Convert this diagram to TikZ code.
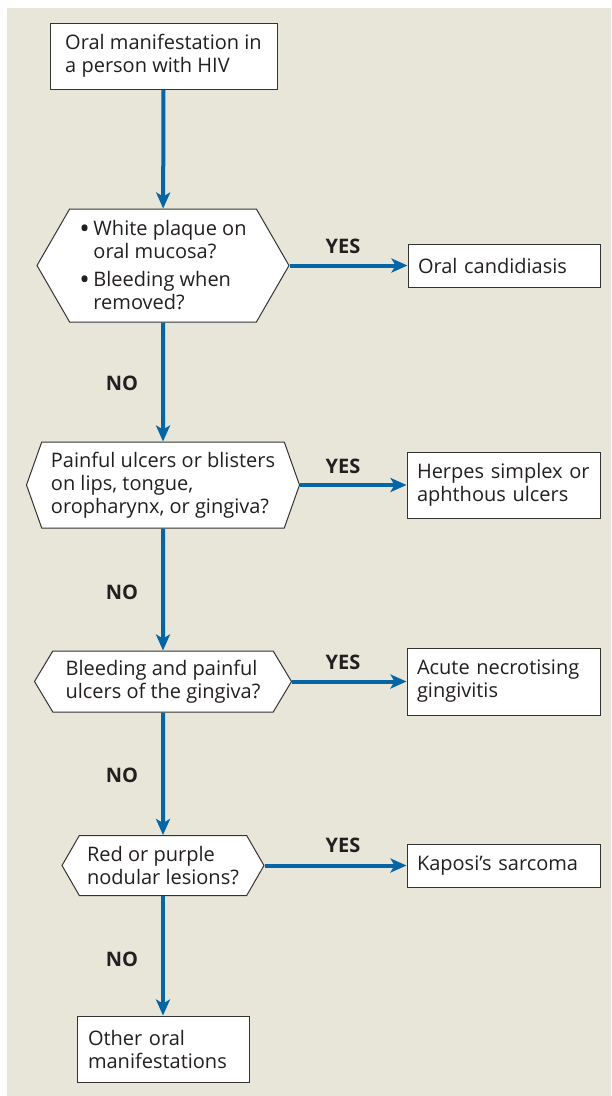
\documentclass[tikz,border=0pt]{standalone}
\usepackage{fontspec}
\setmainfont{Open Sans}
\usetikzlibrary{arrows.meta,shapes.symbols}
\definecolor{beige}{HTML}{E8E5D9}
\definecolor{flowblue}{HTML}{0565A5}
\definecolor{ink}{HTML}{231F20}
\definecolor{edge}{HTML}{333333}
\tikzset{
  body/.style={font=\fontsize{20}{23}\selectfont,text=ink,align=left},
  lbl/.style={font=\fontsize{20}{23}\selectfont\bfseries,text=ink},
  box/.style={body,draw=edge,fill=white,line width=1pt,inner xsep=10pt,anchor=center},
  decision/.style={body,shape=signal,signal to=west and east,draw=edge,fill=white,line width=1pt,inner xsep=2pt},
  flow/.style={-{Stealth[length=16pt,width=14pt,inset=4pt]},draw=flowblue,line width=4pt}
}
\newcommand{\bul}[1]{\makebox[14pt][l]{\raisebox{-2.5pt}{\fontsize{28}{23}\selectfont\textbullet}}#1}
\begin{document}
\begin{tikzpicture}[x=1pt,y=-1pt]
\path[use as bounding box] (0,0) rectangle (611,1096);
\fill[beige] (7,8) rectangle (611,1096);

% main column
\node[box,minimum width=227pt,minimum height=66pt] (start) at (163.5,56) {Oral manifestation in\\a person with HIV};
\node[decision,minimum width=252pt,minimum height=113pt,signal pointer angle=120] (h1) at (163,265.5) {\bul{White plaque on}\\\hspace*{14pt}oral mucosa?\\[5pt]\bul{Bleeding when}\\\hspace*{14pt}removed?};
\node[decision,minimum width=273pt,minimum height=86pt,signal pointer angle=141] (h2) at (163,485) {Painful ulcers or blisters\\on lips, tongue,\\oropharynx, or gingiva?};
\node[decision,minimum width=257pt,minimum height=61pt,signal pointer angle=118] (h3) at (163,681.5) {Bleeding and painful\\ulcers of the gingiva?};
\node[decision,minimum width=202pt,minimum height=60pt,signal pointer angle=120] (h4) at (163,865.5) {Red or purple\\nodular lesions?};
\node[box,minimum width=172pt,minimum height=66pt,text width=150pt] (other) at (163,1049) {Other oral\\manifestations};

% outcomes
\node[box,minimum width=192pt,minimum height=43pt,text width=172pt] (r1) at (504,265.5) {Oral candidiasis};
\node[box,minimum width=193pt,minimum height=66pt,text width=173pt] (r2) at (503.5,485) {Herpes simplex or\\aphthous ulcers};
\node[box,minimum width=193pt,minimum height=67pt,text width=173pt] (r3) at (503.5,681.5) {Acute necrotising\\gingivitis};
\node[box,minimum width=193pt,minimum height=43pt,text width=173pt] (r4) at (503.5,865.5) {Kaposi’s sarcoma};

% labels
\node[lbl] (y1) at (343,246) {YES};
\node[lbl] (y2) at (343,466) {YES};
\node[lbl] (y3) at (343,662) {YES};
\node[lbl] (y4) at (343,845) {YES};
\node[lbl] (n1) at (122,383) {NO};
\node[lbl] (n2) at (122,592) {NO};
\node[lbl] (n3) at (122,775) {NO};
\node[lbl] (n4) at (122,959) {NO};

\draw[flow] (start) -- (h1);
\draw[flow] (h1) -- (h2);
\draw[flow] (h2) -- (h3);
\draw[flow] (h3) -- (h4);
\draw[flow] (h4) -- (other);
\draw[flow] (h1.east) -- (r1.west);
\draw[flow] (h2.east) -- (r2.west);
\draw[flow] (h3.east) -- (r3.west);
\draw[flow] (h4.east) -- (r4.west);
\end{tikzpicture}
\end{document}
